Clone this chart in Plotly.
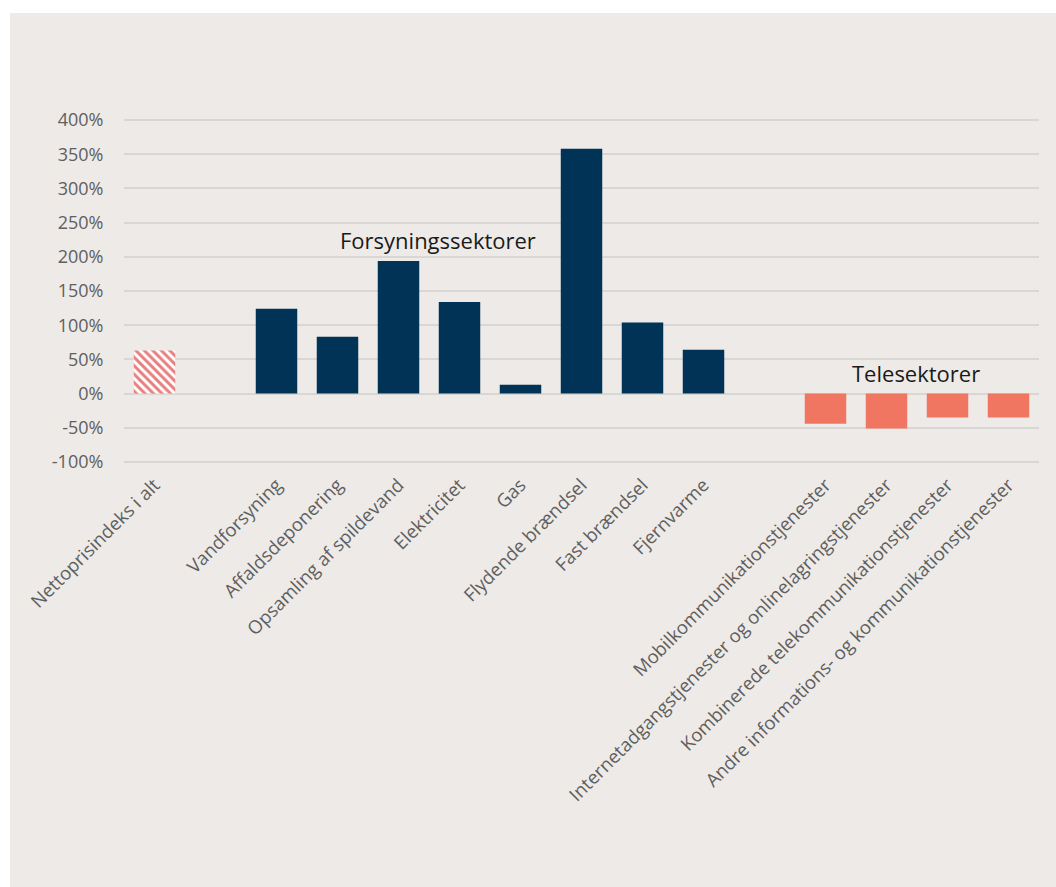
import plotly.graph_objects as go

# Price change by sector (percent)
total_label = ["Nettoprisindeks i alt"]
total_value = [63]

supply_labels = ["Vandforsyning", "Affaldsdeponering", "Opsamling af spildevand",
                 "Elektricitet", "Gas", "Flydende brændsel", "Fast brændsel", "Fjernvarme"]
supply_values = [124, 83, 194, 134, 13, 358, 104, 64]

tele_labels = ["Mobilkommunikationstjenester",
               "Internetadgangstjenester og onlinelagringstjenester",
               "Kombinerede telekommunikationstjenester",
               "Andre informations- og kommunikationstjenester"]
tele_values = [-44, -51, -35, -35]

# blank slots separating the groups on the category axis
spacer_a, spacer_b = " ", "  "
category_order = total_label + [spacer_a] + supply_labels + [spacer_b] + tele_labels

y_ticks = [-100, -50, 0, 50, 100, 150, 200, 250, 300, 350, 400]
y_tick_text = [f"{v}%" for v in y_ticks]

NAVY = "#003356"
SALMON = "#F07662"
PANEL = "#EDEAE7"
GRID = "#D9D7D4"
FONT = "Open Sans"
TICK_COLOR = "#5f5f5f"

W, H = 1056, 887
M_L, M_R, M_T, M_B = 124, 17, 118, 423
plot_w = W - M_L - M_R
plot_h = H - M_T - M_B


def px_to_paper_x(px):
    return (px - M_L) / plot_w


def px_to_paper_y(py):
    return (H - M_B - py) / plot_h


fig = go.Figure()
fig.add_trace(go.Bar(
    x=total_label, y=total_value,
    marker=dict(color="white", line=dict(width=0),
                pattern=dict(shape="\\", fgcolor="#D00000", bgcolor="white",
                             size=6, solidity=0.5)),
))
fig.add_trace(go.Bar(x=supply_labels, y=supply_values,
                     marker=dict(color=NAVY, line=dict(width=0))))
fig.add_trace(go.Bar(x=tele_labels, y=tele_values,
                     marker=dict(color=SALMON, line=dict(width=0))))

# group titles
fig.add_annotation(x=4.65, y=225, xref="x", yref="y", text="Forsyningssektorer",
                   showarrow=False, font=dict(family=FONT, size=22, color="#1a1a1a"))
fig.add_annotation(x=12.48, y=30, xref="x", yref="y", text="Telesektorer",
                   showarrow=False, font=dict(family=FONT, size=22, color="#1a1a1a"))

# panel background behind the chart
fig.add_shape(type="rect", xref="paper", yref="paper",
              x0=px_to_paper_x(10), x1=px_to_paper_x(W + 5),
              y0=px_to_paper_y(H + 5), y1=px_to_paper_y(13),
              fillcolor=PANEL, line=dict(width=0), layer="below")

fig.update_layout(
    width=W, height=H,
    margin=dict(l=M_L, r=M_R, t=M_T, b=M_B),
    paper_bgcolor="white", plot_bgcolor="rgba(0,0,0,0)",
    barmode="overlay", bargap=0.32,
    showlegend=False,
    font=dict(family=FONT, color=TICK_COLOR, size=18),
)
fig.update_xaxes(
    type="category", categoryorder="array", categoryarray=category_order,
    range=[-0.5, len(category_order) - 0.5],
    tickangle=-45, showgrid=False, showline=False, zeroline=False,
    tickfont=dict(family=FONT, size=18.5, color=TICK_COLOR),
    ticks="outside", ticklen=2, tickcolor="rgba(0,0,0,0)",
)
fig.update_yaxes(
    range=[-103, 403], tickmode="array", tickvals=y_ticks, ticktext=y_tick_text,
    showgrid=True, gridcolor=GRID, gridwidth=1.5,
    zeroline=True, zerolinecolor=GRID, zerolinewidth=1.5,
    showline=False,
    ticks="outside", ticklen=16, tickcolor="rgba(0,0,0,0)",
    tickfont=dict(family=FONT, size=18, color=TICK_COLOR),
)

fig.write_html("out.html")
